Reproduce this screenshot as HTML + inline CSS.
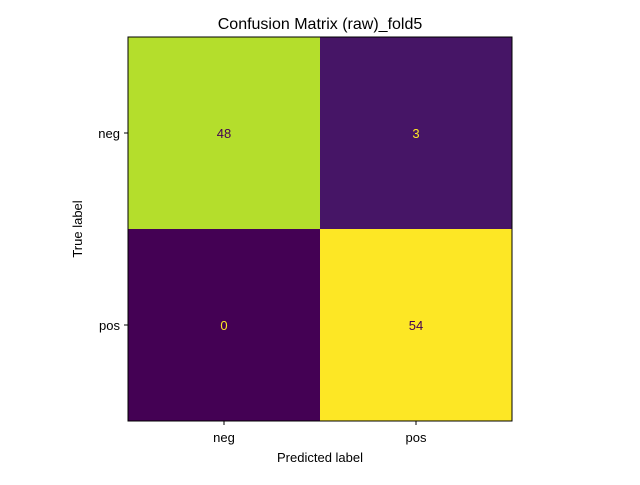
<!DOCTYPE html>
<html><head><meta charset="utf-8"><style>
body{margin:0;background:#fff;}
svg{font-family:"Liberation Sans","DejaVu Sans",sans-serif;}
</style></head><body>
<svg id="chart" width="640" height="480">
<rect width="640" height="480" fill="#fff"/>
<text x="320" y="29" text-anchor="middle" font-size="16">Confusion Matrix (raw)_fold5</text>
<g id="cells"></g>
<rect x="128" y="37" width="384" height="384" fill="none" stroke="#000" stroke-width="1"/>
<g id="ticks" font-size="13"></g>
<text x="320" y="462" text-anchor="middle" font-size="13">Predicted label</text>
<text transform="translate(82,229) rotate(-90)" text-anchor="middle" font-size="13">True label</text>
</svg>
<script>
const labels = ["neg","pos"];
const matrix = [[48,3],[0,54]];
const cellColors = {};
function viridis(t){
  const stops=[[68,1,84],[72,40,120],[62,74,137],[49,104,142],[38,130,142],[31,158,137],[53,183,121],[109,205,89],[180,222,44],[253,231,37]];
  const p=t*(stops.length-1), i=Math.min(Math.floor(p),stops.length-2), f=p-i;
  const c=stops[i].map((v,k)=>Math.round(v+(stops[i+1][k]-v)*f));
  return `rgb(${c[0]},${c[1]},${c[2]})`;
}
const x0=128,y0=37,size=384,n=labels.length,cs=size/n;
const vmax=Math.max(...matrix.flat()), vmin=Math.min(...matrix.flat());
const ns="http://www.w3.org/2000/svg";
const cells=document.getElementById('cells'), ticks=document.getElementById('ticks');
matrix.forEach((row,i)=>row.forEach((v,j)=>{
  const t=(v-vmin)/(vmax-vmin||1);
  const r=document.createElementNS(ns,'rect');
  r.setAttribute('x',x0+j*cs);r.setAttribute('y',y0+i*cs);
  r.setAttribute('width',cs);r.setAttribute('height',cs);
  r.setAttribute('fill',viridis(t));
  
  
  cells.appendChild(r);
  const tx=document.createElementNS(ns,'text');
  tx.setAttribute('x',x0+j*cs+cs/2);tx.setAttribute('y',y0+i*cs+cs/2+5);
  tx.setAttribute('text-anchor','middle');tx.setAttribute('font-size','13');
  tx.setAttribute('fill',t>0.5?'#440154':'#fde725');
  tx.textContent=v;
  
  
  cells.appendChild(tx);
}));
labels.forEach((l,k)=>{
  const c=x0+k*cs+cs/2, cy=y0+k*cs+cs/2;
  const xl=document.createElementNS(ns,'line');
  xl.setAttribute('x1',c);xl.setAttribute('x2',c);xl.setAttribute('y1',421);xl.setAttribute('y2',425);xl.setAttribute('stroke','#000');
  
  
  ticks.appendChild(xl);
  const xt=document.createElementNS(ns,'text');
  xt.setAttribute('x',c);xt.setAttribute('y',442);xt.setAttribute('text-anchor','middle');xt.textContent=l;
  
  
  ticks.appendChild(xt);
  const yl=document.createElementNS(ns,'line');
  yl.setAttribute('x1',124);yl.setAttribute('x2',128);yl.setAttribute('y1',cy);yl.setAttribute('y2',cy);yl.setAttribute('stroke','#000');
  
  
  ticks.appendChild(yl);
  const yt=document.createElementNS(ns,'text');
  yt.setAttribute('x',120);yt.setAttribute('y',cy+5);yt.setAttribute('text-anchor','end');yt.textContent=l;
  
  
  ticks.appendChild(yt);
});
</script>
</body></html>
